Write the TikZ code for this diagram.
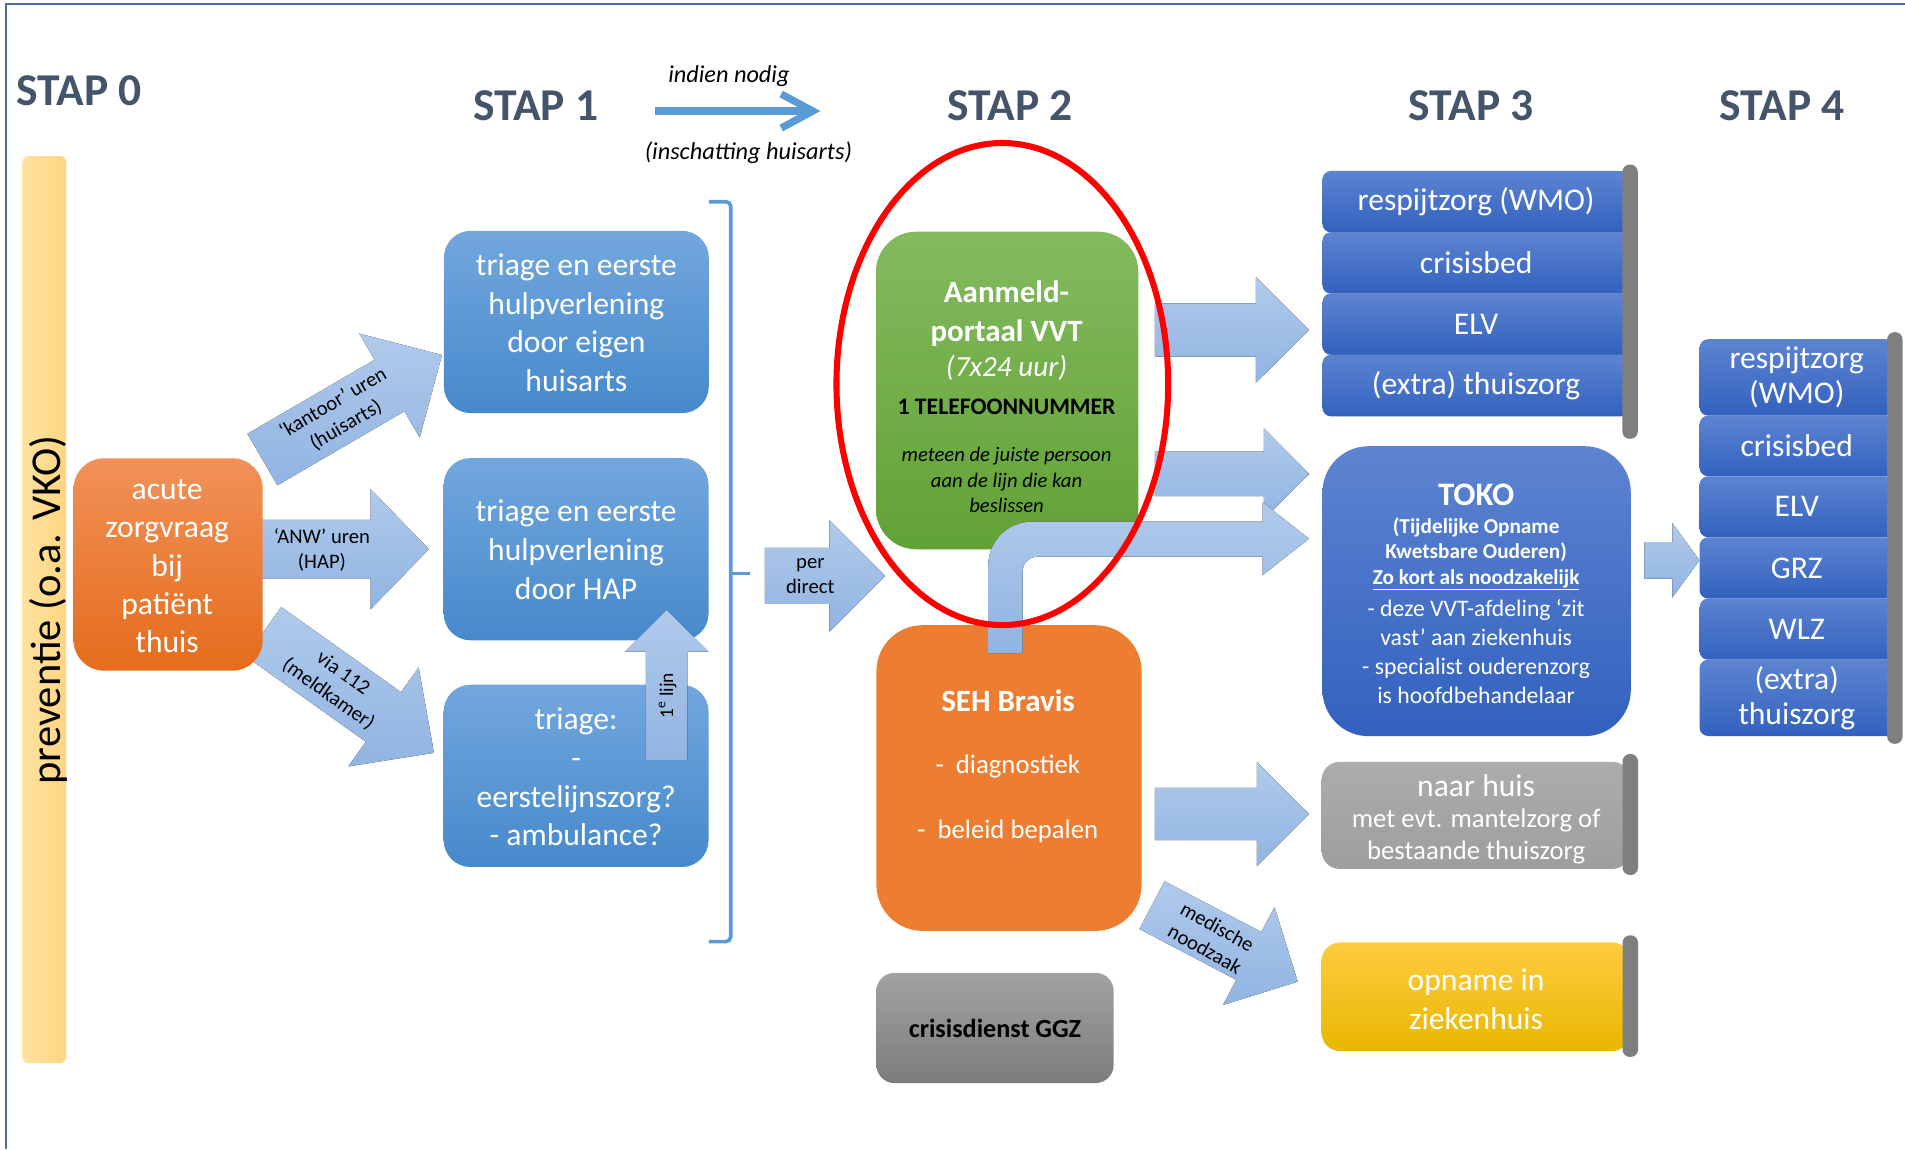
\documentclass[tikz,border=0pt]{standalone}
\usepackage{fontspec}
\setmainfont{Carlito}
\usetikzlibrary{shapes.geometric,calc}
\definecolor{stapcol}{RGB}{68,84,106}
\definecolor{bordercol}{RGB}{70,110,165}
\definecolor{lineblue}{RGB}{91,155,213}
\definecolor{arrT}{RGB}{176,202,235}
\definecolor{arrB}{RGB}{145,180,226}
\definecolor{prevL}{RGB}{255,226,160}
\definecolor{prevR}{RGB}{255,213,128}
\definecolor{orT}{RGB}{241,145,88}
\definecolor{orB}{RGB}{229,108,28}
\definecolor{sehcol}{RGB}{237,125,49}
\definecolor{b1T}{RGB}{114,167,221}
\definecolor{b1B}{RGB}{70,137,203}
\definecolor{grT}{RGB}{132,186,95}
\definecolor{grB}{RGB}{97,162,53}
\definecolor{b3T}{RGB}{93,132,209}
\definecolor{b3B}{RGB}{50,97,190}
\definecolor{gyT}{RGB}{172,172,172}
\definecolor{gyB}{RGB}{158,158,158}
\definecolor{barcol}{RGB}{127,127,127}
\definecolor{yeT}{RGB}{255,204,64}
\definecolor{yeB}{RGB}{232,183,0}
\definecolor{ggzT}{RGB}{162,162,162}
\definecolor{ggzB}{RGB}{124,124,124}
\newcommand{\fsz}[2]{\fontsize{#1}{#2}\selectfont}
% tail x, tail y, angle, length, shaft width, head width, head length
\newcommand{\blockarrow}[7]{%
  \fill[arrowfill, shift={(#1,#2)}, rotate=#3]
    (0,-#5/2) -- ({#4-#7},-#5/2) -- ({#4-#7},-#6/2) -- (#4,0)
    -- ({#4-#7},#6/2) -- ({#4-#7},#5/2) -- (0,#5/2) -- cycle;}
\begin{document}
\begin{tikzpicture}[x=1pt,y=-1pt,
  box/.style={inner sep=0pt, outer sep=0pt},
  wtxt/.style={text=white, align=center, inner sep=0pt},
  ktxt/.style={text=black, align=center, inner sep=0pt},
  stap/.style={text=stapcol, font=\bfseries\fsz{37.5}{45}, inner sep=0pt},
  arrowfill/.style={top color=arrT, bottom color=arrB},
  albl/.style={text=black, align=center, inner sep=0pt, font=\fsz{17}{21}},
  row3/.style={box, rounded corners=7pt, top color=b3T, bottom color=b3B, text=white, font=\fsz{26}{29}, align=center, minimum width=253pt},
  row4/.style={box, rounded corners=7pt, top color=b3T, bottom color=b3B, text=white, font=\fsz{26}{29}, align=center, minimum width=160pt},
  gbar/.style={box, fill=barcol, rounded corners=6pt, minimum width=12.7pt},
  bluebox/.style={box, rounded corners=22pt, top color=b1T, bottom color=b1B, minimum width=218pt, minimum height=150pt},
  btxt/.style={wtxt, font=\fsz{26}{31.8}},
]
\useasboundingbox (0,0) rectangle (1568,946);
\fill[white] (0,0) rectangle (1568,946);
% frame
\coordinate (fr-bl) at (5,946);
\coordinate (fr-tl) at (5,3.5);
\coordinate (fr-tr) at (1568,3.5);
\draw[bordercol, line width=1.6pt] (fr-bl) -- (fr-tl) -- (fr-tr);

% STAP 0 bar
\node[box, rounded corners=5pt, left color=prevL, right color=prevR, minimum width=36pt, minimum height=746.6pt] (prev) at (36.5,501.7) {};
\node[rotate=90, inner sep=0pt, font=\fsz{35}{40}] (prev-t) at (40,502) {preventie (o.a. VKO)};

% step headings
\node[stap] (s0) at (65,75) {STAP 0};
\node[stap] (s1) at (441,87) {STAP 1};
\node[stap] (s2) at (831.5,87) {STAP 2};
\node[stap] (s3) at (1211,87) {STAP 3};
\node[stap] (s4) at (1467,87) {STAP 4};

% indien nodig arrow
\coordinate (ind-a) at (539,91.4);
\coordinate (ind-b) at (669,91.4);
\draw[lineblue, line width=6pt] (ind-a) -- (ind-b);
\draw[lineblue, line width=6pt, miter limit=10] ($(ind-b)+(-26,-14)$) -- (ind-b) -- ($(ind-b)+(-26,14)$);
\node[inner sep=0pt, font=\itshape\fsz{20}{24}] (ind-t1) at (600,63) {indien nodig};
\node[inner sep=0pt, font=\itshape\fsz{20}{24}] (ind-t2) at (616,126) {(inschatting huisarts)};

% arrows from acute zorgvraag
\blockarrow{216}{378.2}{30.2}{171}{49}{99}{50}
\node[albl, rotate=30.2] (lbl-kantoor) at (279.5,341) {‘kantoor’ uren\\(huisarts)};
\blockarrow{203}{452}{0}{150}{48}{99}{48}
\node[albl] (lbl-anw) at (265,452.5) {‘ANW’ uren\\(HAP)};
\blockarrow{217}{520}{-35.4}{172}{50}{100}{51}
\node[albl, rotate=-35.4] (lbl-112) at (276.3,563.1) {via 112\\(meldkamer)};

% acute zorgvraag
\node[box, rounded corners=25pt, top color=orT, bottom color=orB, minimum width=155.6pt, minimum height=174.8pt] (acute) at (138.4,464.6) {};
\node[wtxt, font=\fsz{26}{31.6}] (acute-t) at (137.6,466) {acute\\zorgvraag\\bij\\patiënt\\thuis};

% STAP 1 boxes
\node[bluebox] (hz) at (474.4,265) {};
\node[btxt] (hz-t) at (474.4,265.5) {triage en eerste\\hulpverlening\\door eigen\\huisarts};
\node[bluebox] (hap) at (474.2,452) {};
\node[btxt] (hap-t) at (474.2,452.5) {triage en eerste\\hulpverlening\\door HAP};
\node[bluebox] (tri) at (474.2,638.6) {};
\node[btxt] (tri-t) at (474.2,639.5) {triage:\\-\\eerstelijnszorg?\\- ambulance?};

% 1e lijn arrow
\blockarrow{548.7}{625.5}{90}{123.5}{34}{68.6}{34.4}
\node[albl, rotate=90, font=\fsz{16}{18}] (lbl-1e) at (549.5,572.6) {1\textsuperscript{e} lijn};

% bracket
\coordinate (br-t) at (583.5,166);
\coordinate (br-tr) at (601.5,166);
\coordinate (br-br) at (601.5,775);
\coordinate (br-b) at (583.5,775);
\coordinate (br-m) at (601.5,472);
\coordinate (br-tip) at (617,472);
\draw[lineblue, line width=3pt, rounded corners=4pt] (br-t) -- (br-tr) -- (br-br) -- (br-b);
\draw[lineblue, line width=3pt] (br-m) -- (br-tip);

% per direct
\blockarrow{629.6}{474}{0}{99}{46}{92}{46}
\node[albl] (lbl-per) at (667,474) {per\\direct};

% STAP 2
\node[box, rounded corners=33pt, top color=grT, bottom color=grB, minimum width=215.9pt, minimum height=261.4pt] (vvt) at (829,321.4) {};
\node[wtxt, font=\bfseries\fsz{25.5}{31.5}] (vvt-t1) at (828.5,258) {Aanmeld-\\portaal VVT};
\node[wtxt, font=\itshape\fsz{24}{28}] (vvt-t2) at (828.5,303) {(7x24 uur)};
\node[ktxt, font=\bfseries\fsz{19.5}{23}] (vvt-t3) at (828.5,334.7) {1 TELEFOONNUMMER};
\node[ktxt, font=\itshape\fsz{17}{21}] (vvt-t4) at (828.5,395) {meteen de juiste persoon\\aan de lijn die kan\\beslissen};

\node[box, rounded corners=38pt, fill=sehcol, minimum width=218.3pt, minimum height=251.6pt] (seh) at (830.5,640.4) {};
\node[wtxt, font=\bfseries\fsz{25.5}{30}] (seh-t1) at (829.7,576.6) {SEH Bravis};
\node[wtxt, font=\fsz{22}{26}] (seh-t2) at (829.6,631.3) {-\ \ diagnostiek};
\node[wtxt, font=\fsz{22}{26}] (seh-t3) at (829.5,684) {-\ \ beleid bepalen};

\node[box, rounded corners=15pt, top color=ggzT, bottom color=ggzB, minimum width=195.3pt, minimum height=90.8pt] (ggz) at (819,846.1) {};
\node[ktxt, font=\bfseries\fsz{21.5}{25}] (ggz-t) at (819,846.8) {crisisdienst GGZ};

% arrows STAP 2 -> STAP 3
\blockarrow{950.6}{271.6}{0}{126.8}{44}{87}{43.7}
\blockarrow{950.6}{390}{0}{126.8}{36.5}{75}{37.1}
\fill[arrowfill] (813.4,537.6) -- (813.4,465.4) .. controls (813.4,445.5) and (829.5,429.4) .. (849.4,429.4)
  -- (1039.3,429.4) -- (1039.3,413.4) -- (1077.4,443.4) -- (1039.3,473.3) -- (1039.3,458.2)
  -- (853.7,458.2) .. controls (847.1,458.2) and (841.7,463.6) .. (841.7,470.2) -- (841.7,537.6) -- cycle;
\blockarrow{950.6}{670}{0}{126.8}{43}{85.6}{42.8}
\blockarrow{948.2}{745}{-27.7}{135.5}{44.4}{91}{45.5}
\node[albl, rotate=-29] (lbl-med) at (997,772) {medische\\noodzaak};

% STAP 3 stack
\node[row3, minimum height=50.6pt] (r31) at (1215,166) {respijtzorg (WMO)};
\node[row3, minimum height=50.6pt] (r32) at (1215,216.4) {crisisbed};
\node[row3, minimum height=50.6pt] (r33) at (1215,266.8) {ELV};
\node[row3, minimum height=50.8pt] (r34) at (1215,317.3) {(extra) thuiszorg};
\node[gbar, minimum height=225.7pt] (bar3) at (1341.7,248.3) {};

\node[box, rounded corners=38pt, top color=b3T, bottom color=b3B, minimum width=253.8pt, minimum height=238.7pt] (toko) at (1215.4,486.6) {};
\node[wtxt, font=\bfseries\fsz{27}{30}] (toko-t1) at (1215,407.3) {TOKO};
\node[wtxt, font=\bfseries\fsz{17.5}{20.8}] (toko-t2) at (1215,456) {(Tijdelijke Opname\\Kwetsbare Ouderen)\\\underline{Zo kort als noodzakelijk}};
\node[wtxt, font=\fsz{19.5}{23.8}] (toko-t3) at (1215,536) {- deze VVT-afdeling ‘zit\\vast’ aan ziekenhuis\\- specialist ouderenzorg\\is hoofdbehandelaar};

\node[box, rounded corners=15pt, top color=gyT, bottom color=gyB, minimum width=254.2pt, minimum height=88.2pt] (huis) at (1214.9,671.1) {};
\node[wtxt, font=\fsz{26}{30}] (huis-t1) at (1215,646.6) {naar huis};
\node[wtxt, font=\fsz{22}{26}] (huis-t2) at (1215,688.5) {met evt. mantelzorg of\\bestaande thuiszorg};
\node[gbar, minimum height=99.6pt] (barh) at (1341.9,670.4) {};

\node[box, rounded corners=15pt, top color=yeT, bottom color=yeB, minimum width=254.2pt, minimum height=89.3pt] (opn) at (1214.9,820.4) {};
\node[wtxt, font=\fsz{26}{31.6}] (opn-t) at (1215,822.5) {opname in\\ziekenhuis};
\node[gbar, minimum height=100.1pt] (baro) at (1341.9,819.9) {};

% TOKO -> STAP 4
\blockarrow{1353.4}{461.2}{0}{45.4}{30}{61}{22.2}

% STAP 4 stack
\node[row4, minimum height=62.9pt] (r41) at (1478.9,310.65) {respijtzorg\\(WMO)};
\node[row4, minimum height=49.9pt] (r42) at (1478.9,367.05) {crisisbed};
\node[row4, minimum height=50.2pt] (r43) at (1478.9,417.1) {ELV};
\node[row4, minimum height=50.5pt] (r44) at (1478.9,467.45) {GRZ};
\node[row4, minimum height=50.3pt] (r45) at (1478.9,517.85) {WLZ};
\node[row4, minimum height=62.8pt] (r46) at (1478.9,574.4) {(extra)\\thuiszorg};
\node[gbar, minimum height=338.8pt] (bar4) at (1559.6,442.8) {};

% red ellipse
\node[ellipse, draw=red, line width=5pt, minimum width=273pt, minimum height=396.8pt, inner sep=0pt] (oval) at (825,316.1) {};
\end{tikzpicture}
\end{document}
